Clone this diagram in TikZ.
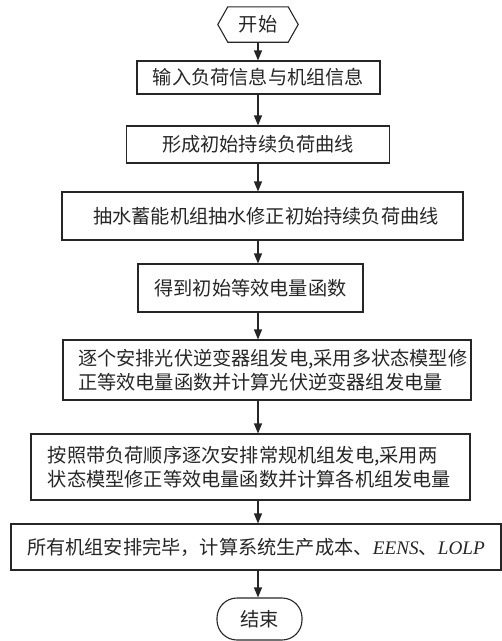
\documentclass[tikz,border=0pt]{standalone}
\usepackage{fontspec}
\setmainfont{Liberation Serif}
\newfontfamily\cjk{Noto Sans CJK SC}
\usetikzlibrary{arrows.meta}
\begin{document}
\begin{tikzpicture}[x=1pt,y=-1pt,
  box/.style={draw=black!85, line width=1.1pt, inner sep=0pt, text=black!85, font=\cjk\fontsize{19.2}{24}\selectfont},
  txt/.style={inner sep=0pt, text=black!85, font=\cjk\fontsize{19.2}{24}\selectfont},
  arr/.style={draw=black!85, line width=1.1pt, -{Triangle[length=10pt,width=8pt]}}]
\useasboundingbox (0,0) rectangle (502,641);
% start
\node[txt, minimum width=80pt, minimum height=35pt] (start) at (258,24.5) {开始};
\draw[draw=black!85, line width=1.1pt] (start.west) -- ([xshift=10pt]start.north west) -- ([xshift=-10pt]start.north east) -- (start.east) -- ([xshift=-10pt]start.south east) -- ([xshift=10pt]start.south west) -- cycle;
% boxes
\node[box, minimum width=243pt, minimum height=33pt] (b1) at (258.5,77.5) {输入负荷信息与机组信息};
\node[box, minimum width=263pt, minimum height=37pt] (b2) at (258,144.5) {形成初始持续负荷曲线};
\node[box, minimum width=401pt, minimum height=48pt] (b3) at (262.5,216) {\hspace*{7pt}抽水蓄能机组抽水修正初始持续负荷曲线};
\node[box, minimum width=225pt, minimum height=48pt] (b4) at (250.5,288) {得到初始等效电量函数};
\node[box, minimum width=408pt, minimum height=60pt, text width=378pt, align=left] (b5) at (267,370) {逐个安排光伏逆变器组发电,采用多状态模型修\\正等效电量函数并计算光伏逆变器组发电量};
\node[box, minimum width=439pt, minimum height=66pt, text width=405pt, align=left] (b6) at (250.5,467) {按照带负荷顺序逐次安排常规机组发电,采用两\\状态模型修正等效电量函数并计算各机组发电量};
\node[box, minimum width=490pt, minimum height=46pt] (b7) at (256,547) {所有机组安排完毕，计算系统生产成本、{\rmfamily\itshape EENS}、{\rmfamily\itshape LOLP}};
\node[box, rounded corners=20pt, minimum width=85pt, minimum height=42pt] (stop) at (259.5,619) {结束};
% arrows
\draw[arr] (start.south) -- (b1.north -| start);
\draw[arr] (b1.south -| start) -- (b2.north -| start);
\draw[arr] (b2.south -| start) -- (b3.north -| start);
\draw[arr] (b3.south -| start) -- (b4.north -| start);
\draw[arr] (b4.south -| start) -- (b5.north -| start);
\draw[arr] (b5.south -| start) -- (b6.north -| start);
\draw[arr] (b6.south -| start) -- (b7.north -| start);
\draw[arr] (b7.south -| start) -- (stop.north -| start);
\end{tikzpicture}
\end{document}
